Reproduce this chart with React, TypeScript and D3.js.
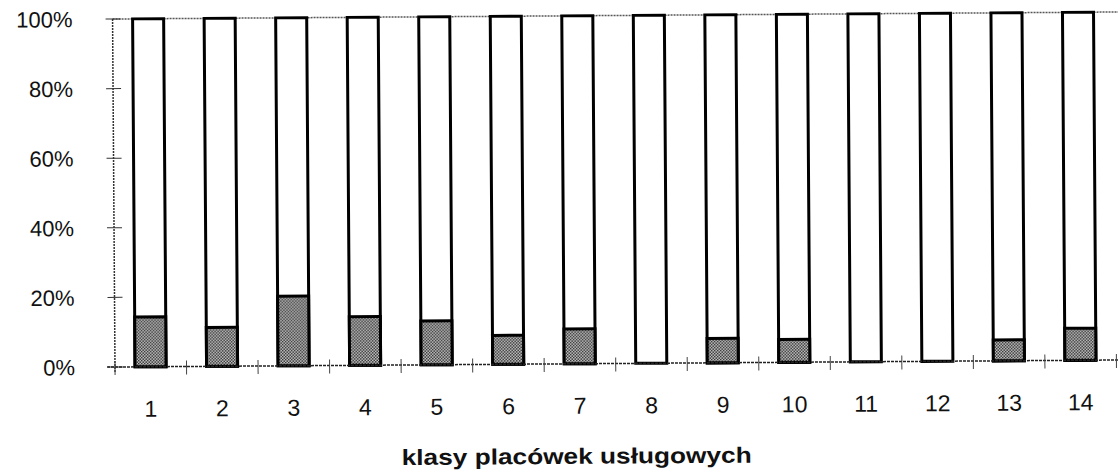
import React from "react";
import * as d3 from "d3";

// classes of service outlets, share of shaded part (%)
const categories = ["1", "2", "3", "4", "5", "6", "7", "8", "9", "10", "11", "12", "13", "14"];
const shaded = [14.3, 11.2, 20, 14, 12.6, 8.3, 10, 0, 7, 6.6, 0, 0, 6, 9.2];
const yTicks = [0, 20, 40, 60, 80, 100];
const xTitle = "klasy placówek usługowych";

const width = 1118;
const height = 473;
const marginLeft = 115;
const marginRight = 2;
const top = 19;
const bottom = 367;

export default function App() {
  const x = d3
    .scaleBand()
    .domain(categories)
    .range([marginLeft, width - marginRight])
    .paddingInner(0.566)
    .paddingOuter(0.28);
  const y = d3.scaleLinear().domain([0, 100]).range([bottom, top]);
  const step = x.step();
  const font = "'Liberation Sans', Arial, sans-serif";

  return (
    <svg
      width={width}
      height={height}
      style={{ position: "absolute", left: 0, top: 0, background: "#fff" }}
    >
      <defs>
        <pattern id="dots" width="3" height="3" patternUnits="userSpaceOnUse">
          <rect width="3" height="3" fill="#d8d8d8" />
          <rect x="0" y="0" width="1.5" height="1.5" fill="#222" />
          <rect x="1.5" y="1.5" width="1.5" height="1.5" fill="#222" />
        </pattern>
      </defs>

      {/* the scan is slightly tilted */}
      <g transform={`rotate(-0.4, ${marginLeft}, ${bottom})`}>
        {/* top border and left axis (dotted, like the scan) */}
        <line x1={marginLeft} x2={width + 5} y1={y(100)} y2={y(100)} stroke="#555" strokeWidth={1.5} strokeDasharray="2 1" />
        <line x1={marginLeft} x2={marginLeft} y1={y(100)} y2={bottom + 6} stroke="#333" strokeWidth={1.5} strokeDasharray="2 1" />

        {/* y ticks */}
        {yTicks.map((t) => (
          <g key={t}>
            <line x1={marginLeft - 7} x2={marginLeft + 8} y1={y(t)} y2={y(t)} stroke="#333" strokeWidth={1} />
            <text
              x={75}
              y={y(t)}
              dy="0.36em"
              textAnchor="end"
              fontFamily={font}
              fontSize={22}
              fill="#111"
            >
              {t}%
            </text>
          </g>
        ))}

        {/* bars */}
        {categories.map((c, i) => (
          <g key={c}>
            <rect
              x={x(c)}
              y={y(100)}
              width={x.bandwidth()}
              height={y(0) - y(100)}
              fill="#fff"
              stroke="#000"
              strokeWidth={3}
            />
            {shaded[i] > 0 && (
              <rect
                x={x(c)}
                y={y(shaded[i])}
                width={x.bandwidth()}
                height={y(0) - y(shaded[i])}
                fill="url(#dots)"
                stroke="#000"
                strokeWidth={3}
              />
            )}
          </g>
        ))}

        {/* baseline */}
        <line x1={marginLeft - 8} x2={width + 5} y1={y(0)} y2={y(0)} stroke="#222" strokeWidth={1.5} strokeDasharray="3 1" />

        {/* x ticks at band boundaries */}
        {d3.range(categories.length + 1).map((k) => (
          <line
            key={k}
            x1={marginLeft + k * step}
            x2={marginLeft + k * step}
            y1={y(0) - 6}
            y2={y(0) + 8}
            stroke="#444"
            strokeWidth={1}
          />
        ))}

        {/* x labels */}
        {categories.map((c) => (
          <text
            key={c}
            x={x(c) + x.bandwidth() / 2}
            y={417}
            textAnchor="middle"
            fontFamily={font}
            fontSize={23}
            fill="#111"
          >
            {c}
          </text>
        ))}

        <text
          x={576}
          y={467}
          textAnchor="middle"
          fontFamily={font}
          fontSize={22}
          fontWeight="bold"
          fill="#111"
          textLength={350}
          lengthAdjust="spacingAndGlyphs"
        >
          {xTitle}
        </text>
      </g>
    </svg>
  );
}
